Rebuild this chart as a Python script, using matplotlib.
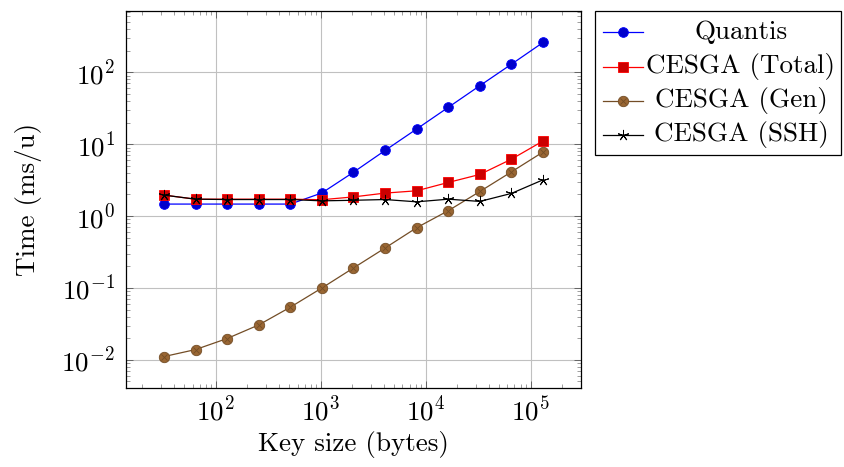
import numpy as np
import matplotlib
matplotlib.use('Agg')
import matplotlib.pyplot as plt
from matplotlib.lines import Line2D
from matplotlib.patches import Rectangle

plt.rcParams.update({
    'font.family': 'cmr10',
    'mathtext.fontset': 'cm',
    'axes.formatter.use_mathtext': True,
    'font.size': 19.5,
    'axes.unicode_minus': False,
})

key_size = [32, 64, 128, 256, 512, 1024, 2048, 4096, 8192, 16384, 32768, 65536, 131072]
quantis = [1.47, 1.47, 1.47, 1.47, 1.47, 2.1, 4.08, 8.2, 16.3, 32.6, 65.3, 130, 261]
cesga_total = [1.96, 1.72, 1.72, 1.72, 1.72, 1.69, 1.85, 2.09, 2.25, 2.94, 3.8, 6.2, 11.1]
cesga_gen = [0.0111, 0.0139, 0.0198, 0.0306, 0.054, 0.1, 0.19, 0.36, 0.69, 1.19, 2.2, 4.13, 7.8]
cesga_ssh = [1.96, 1.72, 1.7, 1.7, 1.7, 1.63, 1.66, 1.7, 1.58, 1.72, 1.6, 2.07, 3.2]
labels = ['Quantis', 'CESGA (Total)', 'CESGA (Gen)', 'CESGA (SSH)']

BROWN = '#734d26'
BROWN_FILL = '#996633'

fig = plt.figure(figsize=(8.45, 4.67), dpi=100)
ax = fig.add_axes([126/845, 1 - 388/467, 455/845, 377/467])

styles = [
    dict(color='#0000ff', marker='o', ms=7, mfc='#0000cc', mec='#0000ff', mew=0.6),
    dict(color='#ff0000', marker='s', ms=7, mfc='#cc0000', mec='#ff0000', mew=0.6),
    dict(color=BROWN, marker='o', ms=7.5, mfc=BROWN_FILL, mec=BROWN, mew=0.6),
    dict(color='black', marker=(5, 2, 0), ms=8, mew=0.7),
]
series = [quantis, cesga_total, cesga_gen, cesga_ssh]

for ys, st in zip(series, styles):
    ax.plot(key_size, ys, lw=0.9, zorder=3, **st)
# otimes cross inside the brown circles
ax.plot(key_size, cesga_gen, ls='none', marker='x', ms=5, mew=0.6, color=BROWN, zorder=4)

ax.set_xscale('log')
ax.set_yscale('log')

# pgfplots-like 10% enlargement in log space
lx = np.log10([min(key_size), max(key_size)])
dx = (lx[1] - lx[0]) * 0.1
ax.set_xlim(10 ** (lx[0] - dx), 10 ** (lx[1] + dx))
all_y = np.concatenate([quantis, cesga_total, cesga_gen, cesga_ssh])
ly = np.log10([all_y.min(), all_y.max()])
dy = (ly[1] - ly[0]) * 0.1
ax.set_ylim(10 ** (ly[0] - dy), 10 ** (ly[1] + dy))

ax.grid(True, which='major', color='#c0c0c0', lw=0.8)
ax.set_axisbelow(True)
ax.tick_params(which='both', direction='in', top=True, right=True, labelsize=19.5)
ax.tick_params(which='major', length=5, width=0.6, color='#555555')
ax.tick_params(which='minor', length=3, width=0.5, color='#777777')
ax.tick_params(axis='x', which='major', pad=6)
ax.tick_params(axis='y', which='major', pad=8)
for sp in ax.spines.values():
    sp.set_linewidth(0.9)

ax.set_xlabel('Key size (bytes)', fontsize=19.5, labelpad=3)
ax.set_ylabel('Time (ms/u)', fontsize=19.5, labelpad=14)

# legend box (pgfplots-style, centred entries)
W, H = 845, 467
def fx(px):
    return px / W
def fy(py):
    return 1 - py / H

fig.add_artist(Rectangle((fx(595), fy(155)), fx(841) - fx(595), fy(11) - fy(155),
                         transform=fig.transFigure, fill=False, lw=0.9, ec='black'))
rows = [32, 67, 101, 135]
for i, (lab, st, row) in enumerate(zip(labels, styles, rows)):
    fig.add_artist(Line2D([fx(603), fx(623), fx(643)], [fy(row)] * 3,
                          transform=fig.transFigure, lw=0.9, markevery=[1], **st))
    if i == 2:
        fig.add_artist(Line2D([fx(623)], [fy(row)], transform=fig.transFigure,
                              ls='none', marker='x', ms=5, mew=0.6, color=BROWN))
    fig.text(fx(741), fy(row), lab, ha='center', va='center', fontsize=19.5)

fig.savefig('out.png', dpi=100)
